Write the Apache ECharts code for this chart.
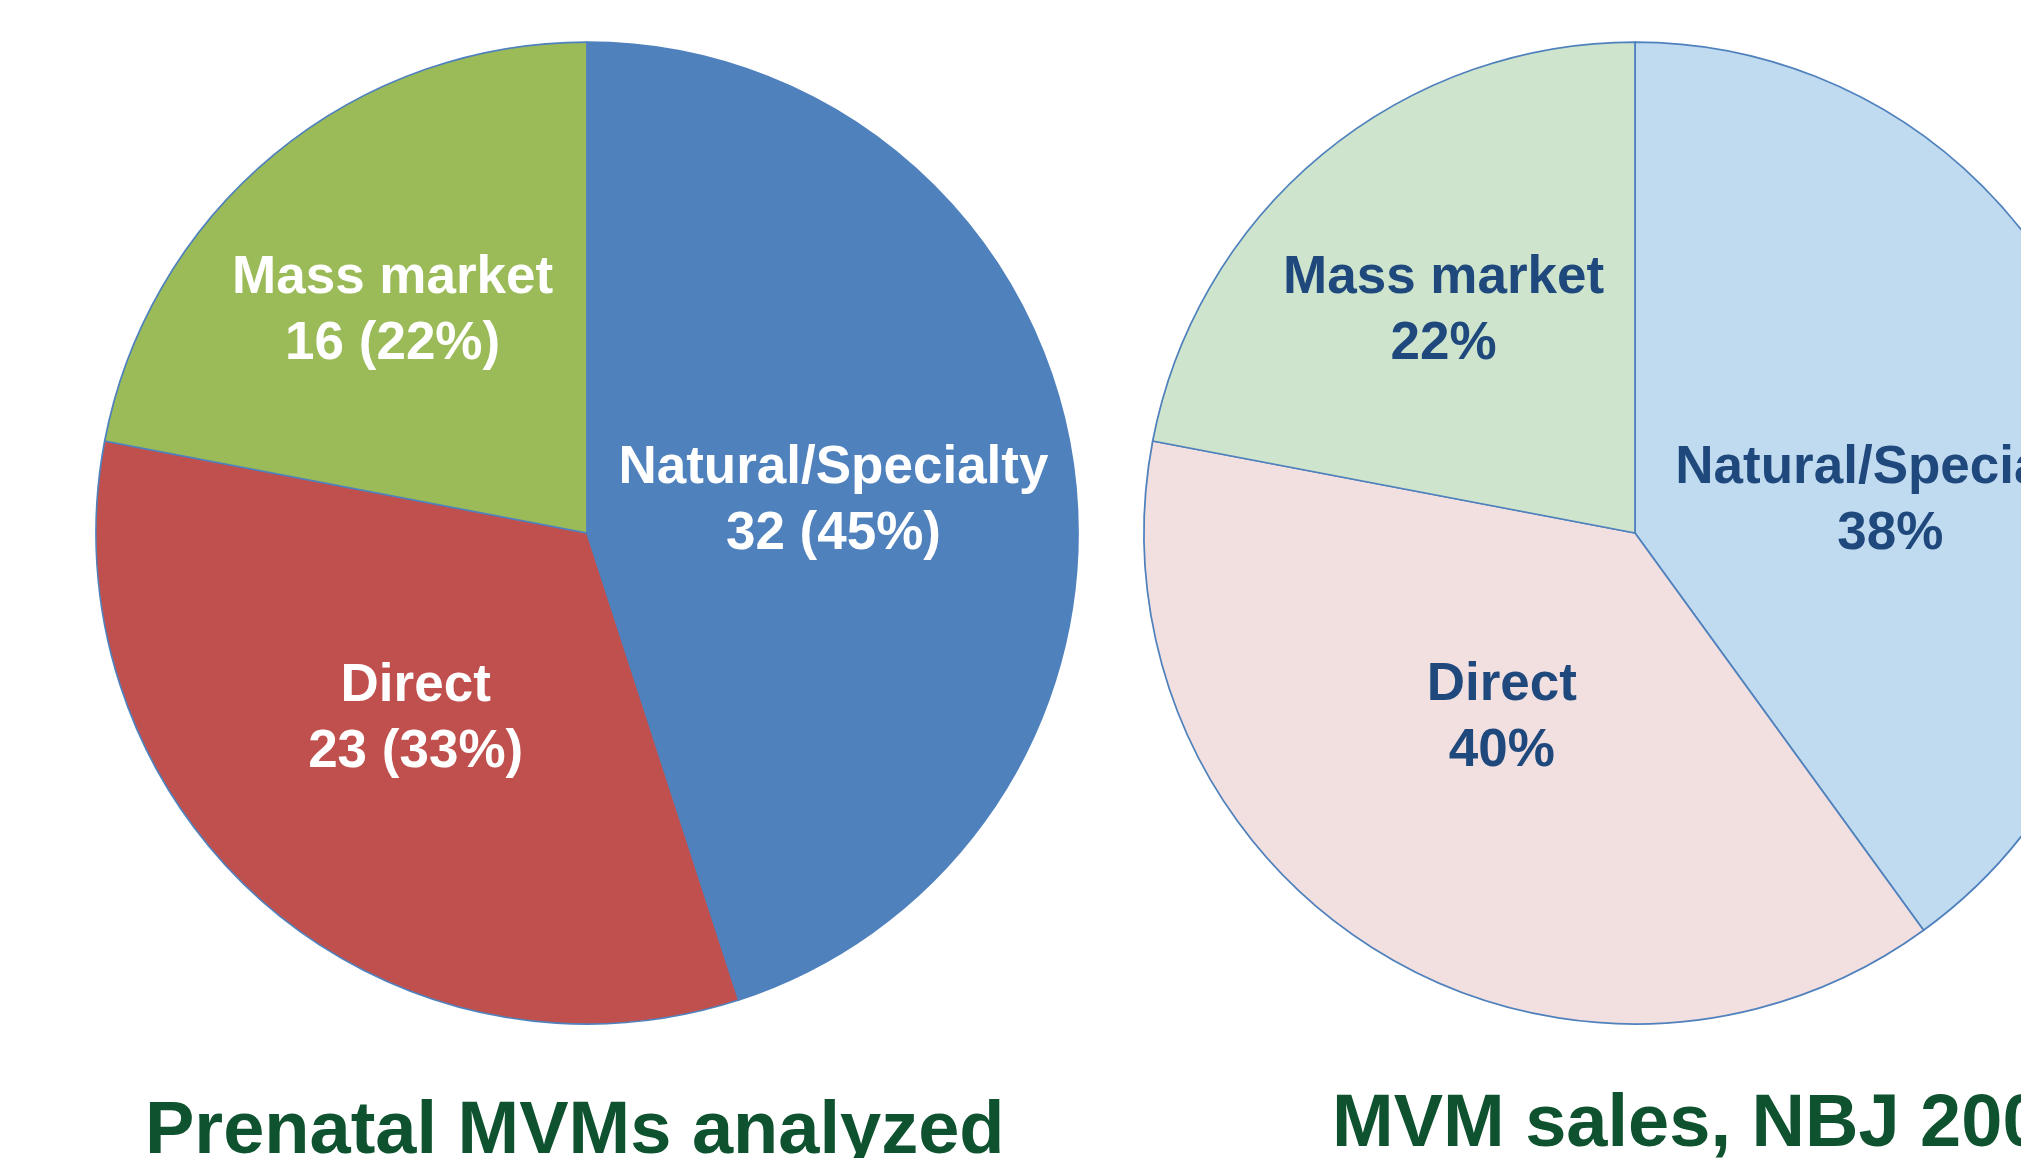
<!DOCTYPE html>
<html>
<head>
<meta charset="utf-8">
<script src="https://cdn.jsdelivr.net/npm/echarts@6/dist/echarts.min.js"></script>
<style>
  html, body { margin: 0; padding: 0; background: #fff; }
  #chart { width: 2021px; height: 1158px; }
</style>
</head>
<body>
<div id="chart"></div>
<script>
// left pie: prenatal MVMs analyzed, by channel
const channels = ['Natural/Specialty', 'Direct', 'Mass market']
const analyzedCounts = [32, 23, 16]
const analyzedPct = [45, 33, 22]

// right pie: MVM sales share (slice sizes as drawn, and the printed labels)
const salesShare = [40, 38, 22]
const salesLabelPct = [38, 40, 22]

const leftColors = ['#4F81BD', '#C0504D', '#9BBB59']
const rightColors = ['#C0DAEF', '#F2DFE0', '#CEE4CC']
const border = '#4F81BD'
const titleGreen = '#0F5230'

// nudges so the labels sit where the original slide had them
const leftNudge = [[1, 7], [-7, 0], [-36, -30]]
const rightNudge = [[19, 45], [0, -24], [-33, -30]]

const chart = echarts.init(document.getElementById('chart'))

const labelBase = {
  show: true,
  position: 'inside',
  fontFamily: 'Liberation Sans, Arial, sans-serif',
  fontWeight: 'bold',
  fontSize: 53,
  lineHeight: 66,
  align: 'center'
}
const titleText = { fontFamily: 'Liberation Sans, Arial, sans-serif', fontWeight: 'bold', fontSize: 74, lineHeight: 74, color: titleGreen }

chart.setOption({
  animation: false,
  backgroundColor: '#ffffff',
  title: [{
    text: 'Prenatal MVMs analyzed',
    left: 140,
    top: 1091,
    textStyle: titleText
  }, {
    text: 'MVM sales, NBJ 2008',
    left: 1327,
    top: 1084,
    textStyle: titleText
  }],
  series: [{
    type: 'pie',
    center: [587, 533],
    radius: 491,
    startAngle: 90,
    clockwise: true,
    silent: true,
    itemStyle: { borderColor: border, borderWidth: 1.75 },
    label: {
      ...labelBase,
      color: '#ffffff',
      formatter: (p) => p.name + '\n' + analyzedCounts[p.dataIndex] + ' (' + analyzedPct[p.dataIndex] + '%)'
    },
    labelLine: { show: false },
    labelLayout: (p) => ({ dx: leftNudge[p.dataIndex][0], dy: leftNudge[p.dataIndex][1] }),
    // slices are drawn from the rounded shares, as on the slide
    data: channels.map((name, i) => ({ name, value: analyzedPct[i], itemStyle: { color: leftColors[i] } }))
  }, {
    type: 'pie',
    center: [1635, 533],
    radius: 491,
    startAngle: 90,
    clockwise: true,
    silent: true,
    itemStyle: { borderColor: border, borderWidth: 1.75 },
    label: {
      ...labelBase,
      color: '#1F497D',
      formatter: (p) => p.name + '\n' + salesLabelPct[p.dataIndex] + '%'
    },
    labelLine: { show: false },
    labelLayout: (p) => ({ dx: rightNudge[p.dataIndex][0], dy: rightNudge[p.dataIndex][1] }),
    data: channels.map((name, i) => ({ name, value: salesShare[i], itemStyle: { color: rightColors[i] } }))
  }]
})
</script>
</body>
</html>
